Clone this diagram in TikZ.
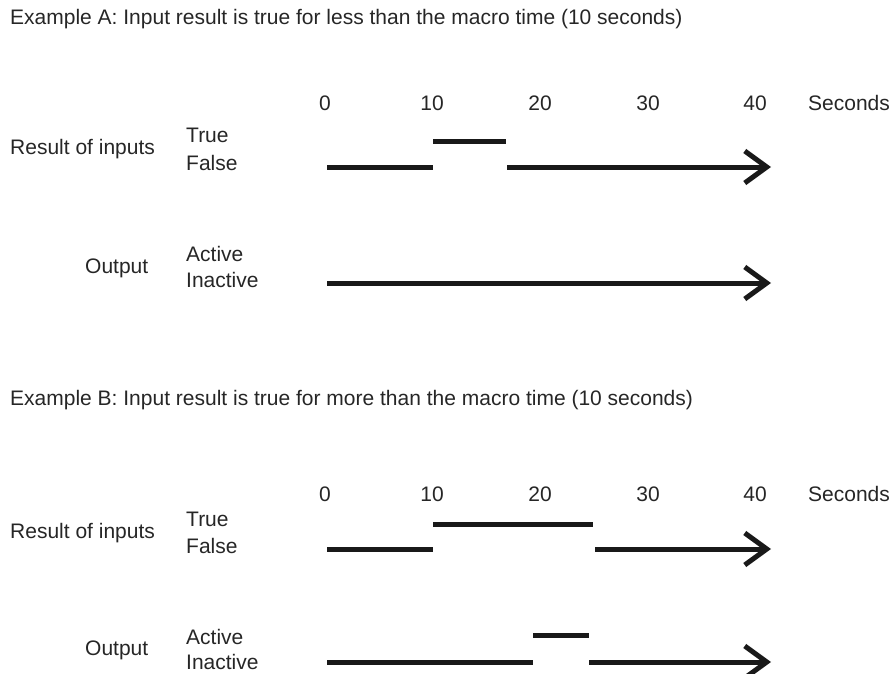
\documentclass[tikz,border=0pt]{standalone}
\usepackage{fontspec}
\setmainfont{Liberation Sans}
\usetikzlibrary{arrows.meta}
\begin{document}
\begin{tikzpicture}[x=1bp,y=-1bp]
    \tikzstyle{txt} = [anchor=base west, inner sep=0pt, text=black!85, font=\fontsize{21bp}{25bp}\selectfont]
    \tikzstyle{tick} = [txt, anchor=base]
    \tikzstyle{level} = [line width=5bp, black!90]
    \tikzstyle{arrow} = [level, -{Straight Barb[length=22bp, width=32bp]}]
    \useasboundingbox (0,0) rectangle (896,674);
    % example A
    \node (titleA) [txt] at (10, 25) {Example A: Input result is true for less than the macro time (10 seconds)};
    \node (t0A) [tick] at (325, 111) {0};
    \node (t10A) [tick] at (432, 111) {10};
    \node (t20A) [tick] at (540, 111) {20};
    \node (t30A) [tick] at (648, 111) {30};
    \node (t40A) [tick] at (755, 111) {40};
    \node (secA) [txt] at (808, 111) {Seconds};
    \node (resA) [txt] at (10, 155) {Result of inputs};
    \node (trueA) [txt] at (186, 143) {True};
    \node (falseA) [txt] at (186, 171) {False};
    \node (outA) [txt] at (85, 273) {Output};
    \node (actA) [txt] at (186, 261) {Active};
    \node (inactA) [txt] at (186, 287) {Inactive};
    \draw[level] (327, 167) -- (433, 167);
    \draw[level] (433, 142) -- (506, 142);
    \draw[arrow] (507, 167) -- (771, 167);
    \draw[arrow] (327, 283) -- (771, 283);
    % example B
    \node (titleB) [txt] at (10, 405) {Example B: Input result is true for more than the macro time (10 seconds)};
    \node (t0B) [tick] at (325, 501) {0};
    \node (t10B) [tick] at (432, 501) {10};
    \node (t20B) [tick] at (540, 501) {20};
    \node (t30B) [tick] at (648, 501) {30};
    \node (t40B) [tick] at (755, 501) {40};
    \node (secB) [txt] at (808, 501) {Seconds};
    \node (resB) [txt] at (10, 538) {Result of inputs};
    \node (trueB) [txt] at (186, 526) {True};
    \node (falseB) [txt] at (186, 553) {False};
    \node (outB) [txt] at (85, 655) {Output};
    \node (actB) [txt] at (186, 644) {Active};
    \node (inactB) [txt] at (186, 669) {Inactive};
    \draw[level] (327, 549) -- (433, 549);
    \draw[level] (433, 524) -- (593, 524);
    \draw[arrow] (595, 549) -- (771, 549);
    \draw[level] (327, 662) -- (533, 662);
    \draw[level] (533, 635) -- (589, 635);
    \draw[arrow] (589, 662) -- (771, 662);
\end{tikzpicture}
\end{document}
